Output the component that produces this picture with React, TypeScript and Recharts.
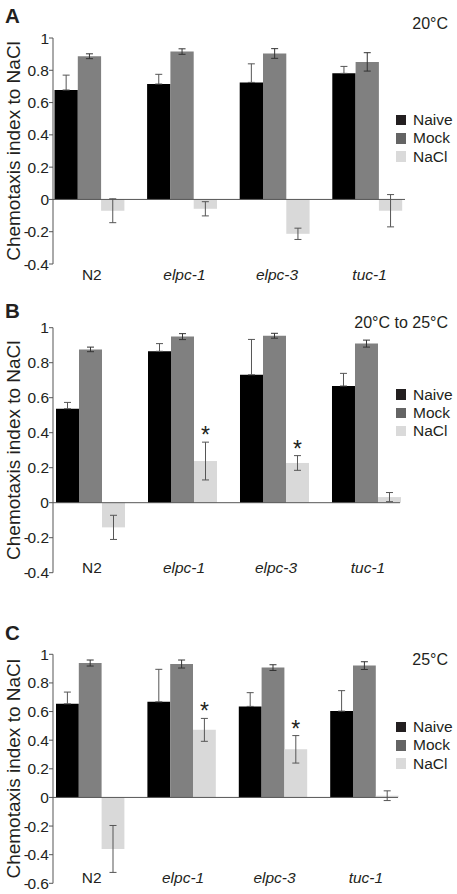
import React from "react";
import {
  BarChart,
  Bar,
  XAxis,
  YAxis,
  ErrorBar,
  ReferenceLine,
  Legend,
  LabelList,
} from "recharts";

const genotypes = ["N2", "elpc-1", "elpc-3", "tuc-1"];
const seriesNames = ["Naive", "Mock", "NaCl"];
const seriesColors = ["#000000", "#808080", "#d9d9d9"];
const swatchColors = ["#231f20", "#646464", "#dadada"];

// A - 20°C
const naiveA = [0.678, 0.715, 0.725, 0.781];
const naiveErrA = [0.092, 0.06, 0.115, 0.043];
const mockA = [0.887, 0.916, 0.904, 0.852];
const mockErrA = [0.015, 0.017, 0.03, 0.057];
const naclA = [-0.07, -0.058, -0.213, -0.07];
const naclErrA = [0.074, 0.044, 0.035, 0.1];
const sigA = ["", "", "", ""];
const ticksA = [-0.4, -0.2, 0, 0.2, 0.4, 0.6, 0.8, 1];

// B - 20°C to 25°C
const naiveB = [0.537, 0.865, 0.731, 0.667];
const naiveErrB = [0.036, 0.044, 0.202, 0.072];
const mockB = [0.876, 0.949, 0.954, 0.909];
const mockErrB = [0.013, 0.017, 0.014, 0.02];
const naclB = [-0.141, 0.238, 0.227, 0.032];
const naclErrB = [0.069, 0.108, 0.042, 0.026];
const sigB = ["", "*", "*", ""];
const ticksB = [-0.4, -0.2, 0, 0.2, 0.4, 0.6, 0.8, 1];

// C - 25°C
const naiveC = [0.654, 0.668, 0.636, 0.603];
const naiveErrC = [0.082, 0.227, 0.096, 0.143];
const mockC = [0.939, 0.932, 0.907, 0.921];
const mockErrC = [0.021, 0.028, 0.02, 0.027];
const naclC = [-0.36, 0.472, 0.336, 0.012];
const naclErrC = [0.164, 0.08, 0.096, 0.034];
const sigC = ["", "*", "*", ""];
const ticksC = [-0.6, -0.4, -0.2, 0, 0.2, 0.4, 0.6, 0.8, 1];

const FONT = "'Liberation Sans', Arial, Helvetica, sans-serif";
const INK = "#231f20";
const AXIS = "#555555";

function buildRows(
  naive: number[],
  naiveErr: number[],
  mock: number[],
  mockErr: number[],
  nacl: number[],
  naclErr: number[],
  sig: string[]
) {
  return genotypes.map((g, i) => ({
    genotype: g,
    naive: naive[i],
    naiveErr: [0, naiveErr[i]],
    mock: mock[i],
    mockErr: mockErr[i],
    nacl: nacl[i],
    naclErr: naclErr[i],
    sig: sig[i],
  }));
}

const panels = [
  {
    letter: "A",
    temp: "20°C",
    top: 0,
    marginTop: 38,
    plotH: 226,
    plotRight: 405,
    padL: -9.5,
    padR: -8.9,
    barSize: 23.3,
    yMin: -0.4,
    ticks: ticksA,
    labelOff: 16,
    legendTop: 111,
    letterY: 22.7,
    tempY: 29.3,
    rows: buildRows(naiveA, naiveErrA, mockA, mockErrA, naclA, naclErrA, sigA),
  },
  {
    letter: "B",
    temp: "20°C to 25°C",
    top: 290,
    marginTop: 37.7,
    plotH: 245,
    plotRight: 400,
    padL: -9,
    padR: -12,
    barSize: 23,
    yMin: -0.4,
    ticks: ticksB,
    labelOff: 0,
    legendTop: 95.5,
    letterY: 318.3,
    tempY: 327.7,
    rows: buildRows(naiveB, naiveErrB, mockB, mockErrB, naclB, naclErrB, sigB),
  },
  {
    letter: "C",
    temp: "25°C",
    top: 590,
    marginTop: 64.3,
    plotH: 229,
    plotRight: 398,
    padL: -9,
    padR: -11.6,
    barSize: 22.8,
    yMin: -0.6,
    ticks: ticksC,
    labelOff: 0,
    legendTop: 128,
    letterY: 640,
    tempY: 665,
    rows: buildRows(naiveC, naiveErrC, mockC, mockErrC, naclC, naclErrC, sigC),
  },
];

const LegendBox = () => (
  <div style={{ fontFamily: FONT }}>
    {seriesNames.map((n, i) => (
      <div
        key={n}
        style={{ display: "flex", alignItems: "center", height: 18.3 }}
      >
        <span
          style={{
            display: "inline-block",
            width: 10.5,
            height: 10.5,
            background: swatchColors[i],
            marginRight: 7,
          }}
        />
        <span style={{ fontSize: 15.5, color: INK, lineHeight: "18.3px" }}>
          {n}
        </span>
      </div>
    ))}
  </div>
);

// y tick with the minus sign pulled close to the digits
const ValueTick = (t: any) => {
  const v = Number(t.payload.value);
  const s = String(Math.abs(v));
  return (
    <text
      x={t.x}
      y={t.y}
      dy="0.355em"
      textAnchor="end"
      fontSize={15.5}
      fontFamily={FONT}
      fill={INK}
    >
      {v < 0 ? <tspan>-</tspan> : null}
      <tspan dx={v < 0 ? -1.5 : 0}>{s}</tspan>
    </text>
  );
};

function Panel({ p }: { p: any }) {
  const height = p.marginTop + p.plotH + 20;
  const cy = p.marginTop + p.plotH / 2;
  const rows = p.rows;

  const star = (props: any) => {
    const { index, value } = props;
    if (!value) return null;
    const vb = props.viewBox || props;
    const r = rows[index];
    const pxPerUnit = Math.abs(vb.height / r.nacl);
    const barTop = Math.min(vb.y, vb.y + vb.height);
    const errTop = barTop - r.naclErr * pxPerUnit;
    return (
      <text
        x={vb.x + vb.width / 2}
        y={errTop + 1}
        textAnchor="middle"
        fontSize={23}
        fontFamily={FONT}
        fill={INK}
      >
        {value}
      </text>
    );
  };

  return (
    <div style={{ position: "absolute", left: 0, top: p.top }}>
      <BarChart
        width={457}
        height={height}
        data={rows}
        margin={{ top: p.marginTop, right: 457 - p.plotRight, bottom: 0, left: 0 }}
        barGap={0}
      >
        <XAxis
          dataKey="genotype"
          axisLine={false}
          tickLine={false}
          tickSize={0}
          tickMargin={0}
          height={20}
          interval={0}
          padding={{ left: p.padL, right: p.padR }}
          tick={(t: any) => (
            <text
              x={t.x + 2}
              y={t.y + p.labelOff}
              textAnchor="middle"
              fontSize={15.5}
              fontFamily={FONT}
              fontStyle={t.payload.value === "N2" ? "normal" : "italic"}
              fill={INK}
            >
              {t.payload.value}
            </text>
          )}
        />
        <YAxis
          type="number"
          domain={[p.yMin, 1]}
          ticks={p.ticks}
          interval={0}
          width={53}
          tickSize={4}
          tickMargin={0}
          axisLine={{ stroke: AXIS }}
          tickLine={{ stroke: AXIS }}
          tick={ValueTick}
          label={{
            content: () => (
              <text
                transform={`translate(20, ${cy}) rotate(-90)`}
                textAnchor="middle"
                fontSize={19}
                fontFamily={FONT}
                fill={INK}
              >
                Chemotaxis index to NaCl
              </text>
            ),
          }}
        />
        <Legend
          layout="vertical"
          align="center"
          verticalAlign="middle"
          content={() => <LegendBox />}
          wrapperStyle={{ left: 395.5, top: p.legendTop, width: 62, height: 56 }}
        />
        <Bar
          dataKey="naive"
          name={seriesNames[0]}
          fill={seriesColors[0]}
          barSize={p.barSize}
          isAnimationActive={false}
        >
          <ErrorBar
            dataKey="naiveErr"
            direction="y"
            width={3.5}
            stroke={AXIS}
            strokeWidth={1}
            isAnimationActive={false}
          />
        </Bar>
        <Bar
          dataKey="mock"
          name={seriesNames[1]}
          fill={seriesColors[1]}
          barSize={p.barSize}
          isAnimationActive={false}
        >
          <ErrorBar
            dataKey="mockErr"
            direction="y"
            width={3.5}
            stroke="#333333"
            strokeWidth={1}
            isAnimationActive={false}
          />
        </Bar>
        <Bar
          dataKey="nacl"
          name={seriesNames[2]}
          fill={seriesColors[2]}
          barSize={p.barSize}
          isAnimationActive={false}
        >
          <ErrorBar
            dataKey="naclErr"
            direction="y"
            width={3.5}
            stroke={AXIS}
            strokeWidth={1}
            isAnimationActive={false}
          />
          <LabelList dataKey="sig" content={star} />
        </Bar>
        <ReferenceLine y={0} stroke={AXIS} strokeWidth={1} />
      </BarChart>
    </div>
  );
}

export default function App() {
  return (
    <div
      style={{
        position: "absolute",
        left: 0,
        top: 0,
        width: 457,
        height: 894,
        background: "#ffffff",
        fontFamily: FONT,
      }}
    >
      {panels.map((p) => (
        <Panel key={p.letter} p={p} />
      ))}
      <svg
        width={457}
        height={894}
        style={{ position: "absolute", left: 0, top: 0, pointerEvents: "none" }}
      >
        {panels.map((p) => (
          <g key={p.letter}>
            <text
              x={5}
              y={p.letterY}
              fontSize={20.5}
              fontWeight="bold"
              fontFamily={FONT}
              fill={INK}
            >
              {p.letter}
            </text>
            <text
              x={448}
              y={p.tempY}
              textAnchor="end"
              fontSize={16}
              fontFamily={FONT}
              fill={INK}
            >
              {p.temp}
            </text>
          </g>
        ))}
      </svg>
    </div>
  );
}
